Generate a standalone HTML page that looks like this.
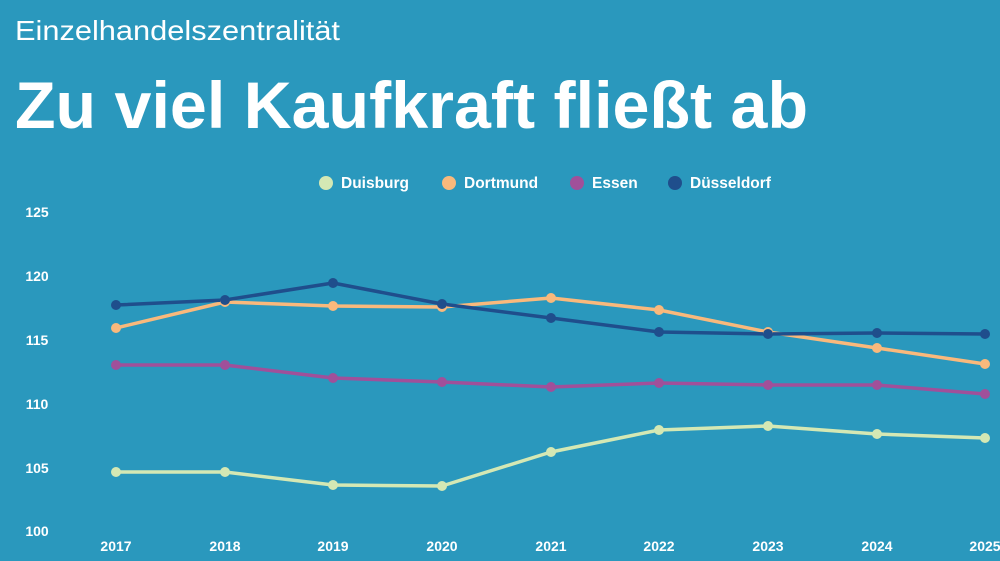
<!DOCTYPE html>
<html><head><meta charset="utf-8"><style>
html,body{margin:0;padding:0;background:#2a98bd;}
svg{display:block;font-family:"Liberation Sans",sans-serif;}
</style></head><body>
<svg width="1000" height="561" viewBox="0 0 1000 561">
<rect width="1000" height="561" fill="#2a98bd"/>
<text x="15" y="40" font-size="28" fill="#fff" textLength="325" lengthAdjust="spacingAndGlyphs">Einzelhandelszentralität</text>
<text x="15" y="128" font-size="66" font-weight="bold" fill="#fff" textLength="793" lengthAdjust="spacingAndGlyphs">Zu viel Kaufkraft fließt ab</text>
<g font-size="15.5" font-weight="bold" fill="#fff">
<circle cx="326" cy="183" r="7" fill="#d4e8b4"/><text x="341" y="188">Duisburg</text>
<circle cx="449" cy="183" r="7" fill="#f9b97c"/><text x="464" y="188">Dortmund</text>
<circle cx="577" cy="183" r="7" fill="#a0509a"/><text x="592" y="188">Essen</text>
<circle cx="675" cy="183" r="7" fill="#1f4e8c"/><text x="690" y="188">Düsseldorf</text>
</g>
<g font-size="14" font-weight="bold" fill="#fff" text-anchor="middle">
<text x="37" y="217">125</text><text x="37" y="281">120</text><text x="37" y="345">115</text>
<text x="37" y="409">110</text><text x="37" y="473">105</text><text x="37" y="536">100</text>
<text x="116" y="551">2017</text><text x="225" y="551">2018</text><text x="333" y="551">2019</text>
<text x="442" y="551">2020</text><text x="551" y="551">2021</text><text x="659" y="551">2022</text>
<text x="768" y="551">2023</text><text x="877" y="551">2024</text><text x="985" y="551">2025</text>
</g>
<g fill="none" stroke-width="3.5" stroke-linejoin="round">
<polyline stroke="#d4e8b4" points="116,472 225,472 333,485 442,486 551,452 659,430 768,426 877,434 985,438"/>
<polyline stroke="#a0509a" points="116,365 225,365 333,378 442,382 551,387 659,383 768,385 877,385 985,394"/>
<polyline stroke="#f9b97c" points="116,328 225,302 333,306 442,307 551,298 659,310 768,332 877,348 985,364"/>
<polyline stroke="#1f4e8c" points="116,305 225,300 333,283 442,304 551,318 659,332 768,334 877,333 985,334"/>
</g>
<g fill="#d4e8b4"><circle cx="116" cy="472" r="5"/><circle cx="225" cy="472" r="5"/><circle cx="333" cy="485" r="5"/><circle cx="442" cy="486" r="5"/><circle cx="551" cy="452" r="5"/><circle cx="659" cy="430" r="5"/><circle cx="768" cy="426" r="5"/><circle cx="877" cy="434" r="5"/><circle cx="985" cy="438" r="5"/></g>
<g fill="#a0509a"><circle cx="116" cy="365" r="5"/><circle cx="225" cy="365" r="5"/><circle cx="333" cy="378" r="5"/><circle cx="442" cy="382" r="5"/><circle cx="551" cy="387" r="5"/><circle cx="659" cy="383" r="5"/><circle cx="768" cy="385" r="5"/><circle cx="877" cy="385" r="5"/><circle cx="985" cy="394" r="5"/></g>
<g fill="#f9b97c"><circle cx="116" cy="328" r="5"/><circle cx="225" cy="302" r="5"/><circle cx="333" cy="306" r="5"/><circle cx="442" cy="307" r="5"/><circle cx="551" cy="298" r="5"/><circle cx="659" cy="310" r="5"/><circle cx="768" cy="332" r="5"/><circle cx="877" cy="348" r="5"/><circle cx="985" cy="364" r="5"/></g>
<g fill="#1f4e8c"><circle cx="116" cy="305" r="5"/><circle cx="225" cy="300" r="5"/><circle cx="333" cy="283" r="5"/><circle cx="442" cy="304" r="5"/><circle cx="551" cy="318" r="5"/><circle cx="659" cy="332" r="5"/><circle cx="768" cy="334" r="5"/><circle cx="877" cy="333" r="5"/><circle cx="985" cy="334" r="5"/></g>
</svg>
</body></html>
